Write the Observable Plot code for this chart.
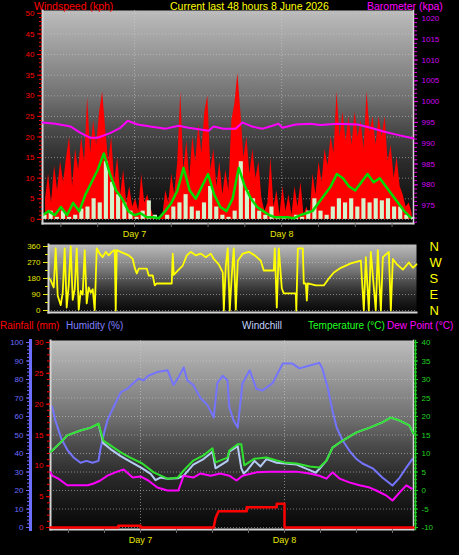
<!DOCTYPE html>
<html><head><meta charset="utf-8">
<script src="https://cdn.jsdelivr.net/npm/d3@7"></script>
<script src="https://cdn.jsdelivr.net/npm/@observablehq/plot@0.6"></script>
<style>
html,body{margin:0;padding:0;background:#000;}
#c{position:relative;width:459px;height:555px;background:#000;overflow:hidden;font-family:"Liberation Sans",Arial,sans-serif;}
.t{position:absolute;font-size:10.5px;line-height:12px;white-space:nowrap;}
.t.s{font-size:10px;}
</style></head>
<body><div id="c"></div>
<script>
// ---------- data ----------
const xDomain = [-15, 45.5];              // hours relative to Day 7 00:00
const dayTicks = [0, 24];
const dayLabels = ["Day 7", "Day 8"];
const sixHourTicks = [-12, -6, 0, 6, 12, 18, 24, 30, 36, 42];

// wind (kph), hourly
const windHours = d3.range(-15, 45.5, 1);
const windAvg = [1,2,1,3,1,4,2,6,9,12, 16,11,7,5,2,1,1.5,0.5,0.5,0.3, 2,4,7,12.5,7,5,8,11,6,3,
  2,5,12.5,8,5,3,2,1,0.5,0.5, 0.5,0.3,1,1.5,2,4,6,8,11,10, 8,7,9,11,9,10,8,6,4,2, 0.5];
const windSpeed = [1,2,0.5,2,0.5,1,2.5,3,5,4, 14,9,6,4,2,0.5,2,4.5,1,0, 1,3,4,6,3,2,4,8,3,1,
  0.5,2,14,7,5,2,1,3,0.5,0.5, 0,1,0.5,2,5,2,1,3,5,4, 5,3,5,4,5,4.5,5,3,3,1, 0.5];
// gusts (kph), sampled every 0.49 h from -14.5 h
const gustStart = -14.5, gustStep = 0.49;
const windGust = [5,11,4,13,7,14,9,15,20,8, 17,12,20,14,29.6,16,24,18,26,31, 22,14,20,9,15,6,12,4,8,3,
  5,2,11,4,6,3,0.5,0,0,0.5, 7,4,11,6,14,31,12,19,10,20, 14,23,16,26,30,12,17,8,14,6,
  12,7,24,28,35.4,26,15,20,11,17, 10,14,5,2,4,15,3,7,1,8, 2,6,1,8,3,9,1,3,0.5,11,
  6,14,9,17,13,20,16,31,20,26, 19,25,18,26,20,24,17,31,21,25, 18,25,20,25,14,18,10,15,8,6, 3,4,1.5];
// barometer (hPa)
const baroHours = [-15,-12.9,-10.4,-8.8,-7.2,-6,-3.9,-2.3,-1.1,0.5,2.6,5.1,7.2,8.8,12.1,12.9,14.5,16.5,17.6,19.2,
  20.9,22.5,23.5,24.1,26.3,28.7,30.3,33.1,36.4,38.5,40.6,42.9,45,45.5];
const baroValues = [995,994.7,994,992.5,991.3,991.3,992.5,993.7,995.4,994.5,994,993.5,994.2,993.7,993,994,993.5,993.5,995,994,
  993.5,994.2,994.7,993.7,994.5,994.7,994.4,994.7,994.5,993.7,992.8,992,991.3,991.2];
const windTicks = d3.range(0, 51, 5);
const baroTicks = d3.range(975, 1021, 5);

// wind direction (degrees)
const dirHours = [-14.97,-14.64,-14.14,-13.82,-13.49,-12.99,-12.66,-12.34,-12.01,-11.68,
  -11.35,-11.02,-10.69,-10.36,-10.03,-9.7,-9.38,-9.05,-8.72,-8.39,
  -8.06,-7.73,-7.4,-7.07,-6.58,-6.09,-5.59,-5.1,-4.6,-4.11,
  -3.95,-3.78,-3.13,-2.47,-1.81,-1.15,-0.82,-0.49,-0.16,1.15,
  1.48,2.14,2.47,2.8,5.26,5.43,5.59,6.41,7.07,7.73,
  8.39,9.21,10.03,10.86,11.68,12.17,12.99,13.65,13.82,14.14,
  14.47,14.8,15.13,15.46,15.79,16.12,16.94,17.93,18.91,19.9,
  20.39,22.04,22.2,22.53,22.86,23.36,23.68,25.66,25.74,25.99,
  26.81,26.97,27.3,27.47,27.63,28.95,30.26,31.09,31.91,33.06,
  34.7,36.35,36.84,37.17,37.66,37.99,38.8,39.14,39.64,39.97,
  40.95,41.28,41.61,42.27,43.26,44.24,44.9,45.5];
const dirDeg = [185,170,130,350,84,30,100,350,17,140, 360,60,120,350,5,110,90,340,40,130,
  100,120,2,350,320,300,330,310,330,340, 0,340,330,320,310,290,240,208,236,236,
  197,197,141,152,152,320,200,230,253,310, 330,310,320,300,320,290,260,214,0,250,
  350,0,200,350,5,280,320,330,310,280, 225,225,350,17,350,124,96,96,0,350,
  350,152,152,56,152,141,141,180,214,240, 265,281,0,300,0,330,0,340,0,300,
  330,0,290,260,230,270,240,260];
const dirTicks = [0, 90, 180, 270, 360];
const compassTicks = [360, 270, 180, 90, 0];
const compassLabels = ["N", "W", "S", "E", "N"];

// humidity (%)
const humHours = [-15,-14.7,-14.2,-13.8,-13.2,-12.2,-11.2,-10,-9,-8, -7,-6.7,-6,-5.5,-4.8,-4.2,-3.3,-2.2,-1.2,-0.3,
  0.5,1.3,2.8,4.5,5.5,6.3,7.2,7.8,8.8,10, 11.2,12.2,12.8,13.7,14.5,14.8,15.5,16.2,17,18.2,
  19.3,20.3,22,23.7,25.3,26.5,28.2,29.8,30.3,31.2, 32,32.7,33.7,34.8,36,37,38.7,40.3,42,43.2, 44.3,45.3];
const humValues = [66,65,58,54,48,42,38,35,36,35, 36,42,52,58,63,67,73,75,78,80.5,
  79.5,82,84,85,77,81,86.5,79.5,77,70, 66,59.5,78,82,79.5,65,58,54,78,85,
  75,74,78,88.6,88.6,86,87.6,89,86,75.7, 63,54,47,41.6,37,34.6,32,27,22.7,27, 32.4,37];
// temperature (°C)
const tempHours = [-15,-14.7,-13.3,-12.2,-10,-8.3,-7,-6.2,-5,-3.3, -1.7,0.3,2.2,4.5,6.2,7.2,8.8,10.5,12,12.5,
  14.5,14.8,16.2,16.8,17.3,19,21,22.7,24,26, 28.2,29.8,31,32,33.7,36,38.2,40.3,41.7,43.2, 44.8,45.5];
const tempValues = [10.5,10.8,13,14.9,16.2,17,18.1,13.5,12.2,10.3, 8.9,7.3,4.9,3.2,3.5,5.4,8.1,9.5,11.4,7.6,
  8.9,10.8,12.5,12.5,6.8,8.6,8.9,8.1,7.6,7.3, 6.5,6.2,8.1,11.6,13.5,15.7,17,18.4,19.7,18.9, 17.6,15.4];
// windchill (°C)
const wcHours = [-15,-14.7,-13.3,-12.2,-10,-8.3,-7,-6.2,-5,-3.3, -1.7,0.3,1.7,2.5,3.3,4.5,6.2,7.2,8.8,10.5,
  12,12.5,13.5,14.5,14.8,16.2,16.8,17.2,17.8,19, 20,21,22.7,24,26,28.2,29.2,29.8,31,32, 33.7,36,38.2,40.3,41.7,43.2,44.8,45.5];
const wcValues = [10.5,10.8,13,14.9,16.2,17,18,12.8,11.2,9.3, 7.8,6,4.5,2.8,3.5,3.2,3.3,4,7,8.5,
  10.5,6,7,8,10.5,12,6,4.6,5.5,8, 6.5,8.5,7.5,7.3,7,5.5,4.8,5.8,8.1,11.6, 13.5,15.7,17,18.4,19.7,18.9,17.6,15.4];
// dew point (°C)
const dewHours = [-15,-14.7,-13.7,-12.2,-10.5,-8.8,-7.8,-6.7,-5.5,-4.2, -2.8,-1.3,0,1.3,2.8,4.5,6.3,7.2,8.8,10,
  11.7,13.3,14.8,16,17,19.3,21.5,24,26,28.2, 29.8,31,32,33.2,34.8,36.5,38.2,39.3,41,42, 43.2,44.3,45.2];
const dewValues = [4.9,4,3.2,1.4,1.4,1.4,1.9,2.7,4,4.9, 5.7,3.5,3.8,2.7,0.8,0,0,4,3.5,4.6,
  4,4.6,4,2.7,4,4.9,5.1,5.1,5.1,4.6, 4,3.2,4.9,3.2,2.2,1.4,0.8,0,-1.4,-2.7, -0.5,1.4,0.5];
// rainfall (mm, daily accumulation)
const rainHours = [-15,-3.7,-3.7,0,0,12.2,12.5,13,17.7,17.7,22.7,22.7,24,24,45.5];
const rainValues = [0,0,0.3,0.3,0,0,1.5,2.65,2.65,3.3,3.3,3.85,3.85,0,0];
const humTicks = d3.range(0, 101, 10);
const rainTicks = d3.range(0, 31, 5);
const tempTicks = d3.range(-10, 41, 5);

// ---------- tables ----------
const wind = windHours.map((h, i) => ({h, avg: windAvg[i], spd: windSpeed[i]}));
const gust = windGust.map((v, i) => ({h: gustStart + i * gustStep, v}));
const baro = baroHours.map((h, i) => ({h, v: baroValues[i]}));
const dir = dirHours.map((h, i) => ({h, v: dirDeg[i]}));
const hum = humHours.map((h, i) => ({h, v: humValues[i]}));
const temp = tempHours.map((h, i) => ({h, v: tempValues[i]}));
const wc = wcHours.map((h, i) => ({h, v: wcValues[i]}));
const dew = dewHours.map((h, i) => ({h, v: dewValues[i]}));
const rain = rainHours.map((h, i) => ({h, v: rainValues[i]}));

// ---------- helpers ----------
const root = document.getElementById("c");
const FONT = "'Liberation Sans', Arial, sans-serif";
const svgStyle = {background: "transparent", overflow: "visible", fontFamily: FONT, fontSize: "8px", color: "#ccc"};
const bgStops = [[0,"#bcbcbc"],[0.2,"#989898"],[0.42,"#6e6e6e"],[0.55,"#4c4c4c"],[0.72,"#2a2a2a"],[0.9,"#121212"],[1,"#080808"]];
const gridStyle = {stroke: "#d0d0d0", strokeOpacity: 0.55, strokeDasharray: "1,2"};
const border = "#d4d4d4";
const intFmt = d => String(d);

function place(svg, top, gradId) {
  if (gradId) {
    const g = d3.select(svg).insert("defs", ":first-child").append("linearGradient")
      .attr("id", gradId).attr("x1", 0).attr("y1", 0).attr("x2", 0).attr("y2", 1);
    bgStops.forEach(([o, c]) => g.append("stop").attr("offset", o).attr("stop-color", c));
  }
  svg.style.position = "absolute";
  svg.style.left = "0px";
  svg.style.top = top + "px";
  root.appendChild(svg);
}
function text(str, left, top, color, small) {
  const d = document.createElement("div");
  d.className = small ? "t s" : "t"; d.textContent = str;
  d.style.left = left + "px"; d.style.top = top + "px"; d.style.color = color;
  root.appendChild(d);
}
const dayFmt = d => dayLabels[dayTicks.indexOf(d)];

// ---------- panel 1: wind + barometer ----------
const dim1 = {width: 459, height: 240, marginTop: 10, marginBottom: 17, marginLeft: 42, marginRight: 46, style: svgStyle};
place(Plot.plot({
  ...dim1,
  x: {domain: xDomain, axis: null, label: null},
  y: {domain: [-1, 50.7], axis: null, label: null},
  marks: [
    Plot.frame({fill: "url(#bg1)"}),
    Plot.gridY({ticks: windTicks, ...gridStyle}),
    Plot.gridX({ticks: dayTicks, ...gridStyle}),
    Plot.areaY(gust, {x: "h", y: "v", fill: "#ff0000"}),
    Plot.rectY(wind, {x: "h", y: "spd", interval: 1, fill: "#d4f2cc", insetLeft: 0.5, insetRight: 1.5}),
    Plot.lineY(wind, {x: "h", y: "avg", stroke: "#00dc00", strokeWidth: 2.5}),
    Plot.frame({anchor: "left", stroke: border, strokeWidth: 2}),
    Plot.frame({anchor: "bottom", stroke: border, strokeWidth: 2}),
    Plot.frame({anchor: "right", stroke: border, strokeWidth: 1.5}),
    Plot.axisY({ticks: d3.range(0, 51, 1), tickSize: 3, tickFormat: () => "", stroke: "#ff0000", label: null}),
    Plot.axisY({ticks: windTicks, tickSize: 5, tickPadding: 3, tickFormat: intFmt, stroke: "#ff0000", fill: "#ff0000", fontSize: 8, label: null}),
    Plot.axisX({ticks: sixHourTicks, tickSize: 4, tickFormat: () => "", stroke: "#6a6a6a", label: null}),
    Plot.axisX({ticks: dayTicks, tickSize: 0, tickPadding: 7, tickFormat: dayFmt, fill: "#e6e600", fontSize: 9, label: null})
  ]
}), 0, "bg1");
place(Plot.plot({
  ...dim1,
  x: {domain: xDomain, axis: null, label: null},
  y: {domain: [970.7, 1021.9], axis: null, label: null},
  marks: [
    Plot.lineY(baro, {x: "h", y: "v", stroke: "#ff00ff", strokeWidth: 2}),
    Plot.axisY({anchor: "right", ticks: d3.range(971, 1022, 1), tickSize: 3, tickFormat: () => "", stroke: "#e000e0", label: null}),
    Plot.axisY({anchor: "right", ticks: baroTicks, tickSize: 4, tickPadding: 4, tickFormat: intFmt, stroke: "#e000e0", fill: "#d000f0", fontSize: 8, label: null})
  ]
}), 0);

// ---------- panel 2: wind direction ----------
place(Plot.plot({
  width: 459, height: 80, marginTop: 6, marginBottom: 6, marginLeft: 48, marginRight: 43, style: svgStyle,
  x: {domain: xDomain, axis: null, label: null},
  y: {domain: [-11.25, 371.25], axis: null, label: null},
  marks: [
    Plot.frame({fill: "url(#bg2)"}),
    Plot.gridY({ticks: dirTicks, ...gridStyle}),
    Plot.lineY(dir, {x: "h", y: "v", stroke: "#ffff00", strokeWidth: 1.8}),
    Plot.frame({anchor: "left", stroke: border, strokeWidth: 2}),
    Plot.frame({anchor: "bottom", stroke: border, strokeWidth: 2}),
    Plot.axisY({ticks: d3.range(0, 361, 45), tickSize: 3, tickFormat: () => "", stroke: "#e6e600", label: null}),
    Plot.axisY({ticks: dirTicks, tickSize: 5, tickPadding: 3, tickFormat: intFmt, stroke: "#e6e600", fill: "#e6e600", fontSize: 8, label: null}),
    Plot.axisY({anchor: "right", ticks: compassTicks, tickSize: 0, tickPadding: 13,
      tickFormat: d => compassLabels[compassTicks.indexOf(d)], fill: "#ffff00", fontSize: 13, label: null})
  ]
}), 238, "bg2");

// ---------- panel 3: humidity / rain / temperature ----------
const dim3 = {width: 459, height: 225, marginTop: 10, marginBottom: 26, marginLeft: 50, marginRight: 46, style: svgStyle};
place(Plot.plot({
  ...dim3,
  x: {domain: xDomain, axis: null, label: null},
  y: {domain: [-1.08, 101.08], axis: null, label: null},
  marks: [
    Plot.frame({fill: "url(#bg3)"}),
    Plot.gridY({ticks: humTicks, ...gridStyle}),
    Plot.gridX({ticks: dayTicks, ...gridStyle}),
    Plot.lineY(hum, {x: "h", y: "v", stroke: "#7474ff", strokeWidth: 2}),
    Plot.frame({anchor: "left", stroke: border, strokeWidth: 2}),
    Plot.frame({anchor: "bottom", stroke: border, strokeWidth: 2}),
    Plot.frame({anchor: "right", stroke: border, strokeWidth: 1.5}),
    Plot.frame({anchor: "left", dx: -20, stroke: "#6c6cff", strokeWidth: 3}),
    Plot.axisY({ticks: d3.range(0, 101, 2), tickSize: 3, dx: -20, tickFormat: () => "", stroke: "#6c6cff", label: null}),
    Plot.axisY({ticks: humTicks, tickSize: 4, tickPadding: 3, dx: -20, tickFormat: intFmt, stroke: "#6c6cff", fill: "#6c6cff", fontSize: 8, label: null}),
    Plot.axisX({ticks: sixHourTicks, tickSize: 4, tickFormat: () => "", stroke: "#6a6a6a", label: null}),
    Plot.axisX({ticks: dayTicks, tickSize: 0, tickPadding: 7, tickFormat: dayFmt, fill: "#e6e600", fontSize: 9, label: null})
  ]
}), 330, "bg3");
place(Plot.plot({
  ...dim3,
  x: {domain: xDomain, axis: null, label: null},
  y: {domain: [-10.54, 40.54], axis: null, label: null},
  marks: [
    Plot.lineY(wc, {x: "h", y: "v", stroke: "#b4ccf4", strokeWidth: 2}),
    Plot.lineY(temp, {x: "h", y: "v", stroke: "#30e030", strokeWidth: 2}),
    Plot.lineY(dew, {x: "h", y: "v", stroke: "#ff00ff", strokeWidth: 2}),
    Plot.frame({anchor: "right", dx: 2, stroke: "#20d020", strokeWidth: 1.5}),
    Plot.axisY({anchor: "right", ticks: d3.range(-10, 41, 1), tickSize: 3, tickFormat: () => "", stroke: "#20d020", label: null}),
    Plot.axisY({anchor: "right", ticks: tempTicks, tickSize: 4, tickPadding: 4, tickFormat: intFmt, stroke: "#20d020", fill: "#20d020", fontSize: 8, label: null})
  ]
}), 330);
place(Plot.plot({
  ...dim3,
  x: {domain: xDomain, axis: null, label: null},
  y: {domain: [-0.32, 30.32], axis: null, label: null},
  marks: [
    Plot.lineY(rain, {x: "h", y: "v", stroke: "#ff0000", strokeWidth: 2.5}),
    Plot.axisY({ticks: d3.range(0, 31, 1), tickSize: 3, tickFormat: () => "", stroke: "#ff0000", label: null}),
    Plot.axisY({ticks: rainTicks, tickSize: 4, tickPadding: 3, tickFormat: intFmt, stroke: "#ff0000", fill: "#ff0000", fontSize: 8, label: null})
  ]
}), 330);

// ---------- titles ----------
text("Windspeed (kph)", 34, 0, "#ff0000");
text("Current last 48 hours 8 June 2026", 170, 0, "#ffff00");
text("Barometer (kpa)", 367, 0, "#ff00ff");
text("Rainfall (mm)", 0, 320, "#ff0000", true);
text("Humidity (%)", 66, 320, "#8080ff", true);
text("Windchill", 242, 320, "#c4d4ff", true);
text("Temperature (°C)", 308, 320, "#20ff20", true);
text("Dew Point (°C)", 387, 320, "#ff00ff", true);
</script>
</body></html>
